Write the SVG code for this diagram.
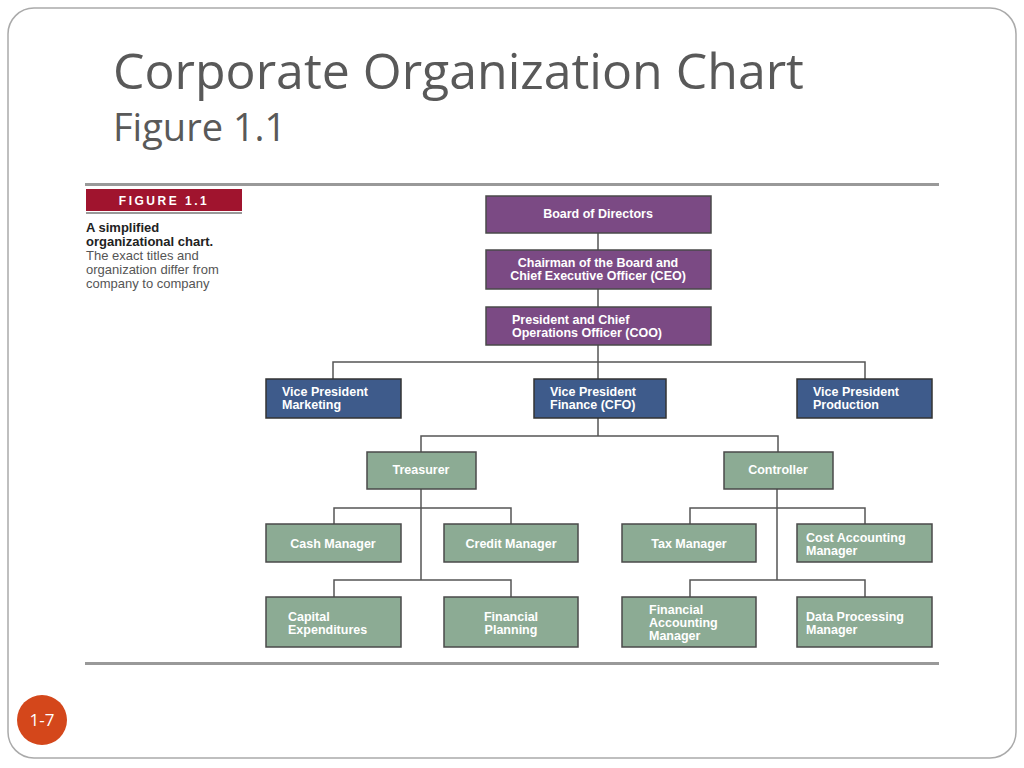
<svg xmlns="http://www.w3.org/2000/svg" width="1024" height="768" viewBox="0 0 1024 768">
<style>
.p{fill:#7b4a84;stroke:#4a4a4a;stroke-width:1.5}
.b{fill:#3e5b8b;stroke:#333;stroke-width:1.5}
.g{fill:#8cab94;stroke:#4a4a4a;stroke-width:1.5}
.t{font-family:"Liberation Sans",Arial,sans-serif;font-weight:bold;font-size:12.5px;fill:#fff}
.c{text-anchor:middle}
.ln{stroke:#555;stroke-width:1.5;fill:none}
</style>
<rect width="1024" height="768" fill="#fff"/>
<rect x="8" y="8" width="1008" height="750" rx="26" fill="#fff" stroke="#aaa" stroke-width="1.5"/>
<text x="113" y="89" font-family="Open Sans,sans-serif" font-size="50" fill="#595959">Corporate Organization Chart</text>
<text x="113" y="141" font-family="Open Sans,sans-serif" font-size="38" fill="#595959">Figure 1.1</text>
<rect x="85" y="183" width="854" height="3" fill="#999"/>
<rect x="85" y="662" width="854" height="3" fill="#999"/>
<rect x="86" y="189" width="156" height="22" fill="#a0142e"/>
<rect x="86" y="212" width="156" height="2" fill="#999"/>
<text x="164" y="205" text-anchor="middle" font-family="Liberation Sans,Arial,sans-serif" font-weight="bold" font-size="12" letter-spacing="2.5" fill="#fff">FIGURE 1.1</text>
<g font-family="Liberation Sans,Arial,sans-serif" font-size="13">
<text x="86" y="232" font-weight="bold" fill="#222">A simplified</text>
<text x="86" y="246" font-weight="bold" fill="#222">organizational chart.</text>
<text x="86" y="260" fill="#555">The exact titles and</text>
<text x="86" y="274" fill="#555">organization differ from</text>
<text x="86" y="288" fill="#555">company to company</text>
</g>
<g id="connectors" class="ln">
<path d="M598 233V250M598 289V307M598 345V379M333 379V362H865V379M598 418V436H421V452M598 436H778V452"/>
<path d="M421 489V580M334 524V508H511V524M334 597V580H511V597"/>
<path d="M777 489V580M690 524V508H865V524M690 597V580H865V597"/>
</g>
<g id="board"><rect class="p" x="486" y="196" width="225" height="37"/><text class="t c" x="598" y="218">Board of Directors</text></g>
<g id="ceo"><rect class="p" x="486" y="250" width="225" height="39"/><text class="t c" x="598" y="267">Chairman of the Board and</text><text class="t c" x="598" y="280">Chief Executive Officer (CEO)</text></g>
<g id="coo"><rect class="p" x="486" y="307" width="225" height="38"/><text class="t" x="512" y="324">President and Chief</text><text class="t" x="512" y="337">Operations Officer (COO)</text></g>
<g id="vpm"><rect class="b" x="266" y="379" width="135" height="39"/><text class="t" x="282" y="396">Vice President</text><text class="t" x="282" y="409">Marketing</text></g>
<g id="cfo"><rect class="b" x="534" y="379" width="132" height="39"/><text class="t" x="550" y="396">Vice President</text><text class="t" x="550" y="409">Finance (CFO)</text></g>
<g id="vpp"><rect class="b" x="797" y="379" width="135" height="39"/><text class="t" x="813" y="396">Vice President</text><text class="t" x="813" y="409">Production</text></g>
<g id="treasurer"><rect class="g" x="367" y="452" width="109" height="37"/><text class="t c" x="421" y="474">Treasurer</text></g>
<g id="controller"><rect class="g" x="724" y="452" width="109" height="37"/><text class="t c" x="778" y="474">Controller</text></g>
<g id="cash"><rect class="g" x="266" y="524" width="135" height="38"/><text class="t c" x="333" y="548">Cash Manager</text></g>
<g id="credit"><rect class="g" x="444" y="524" width="134" height="38"/><text class="t c" x="511" y="548">Credit Manager</text></g>
<g id="tax"><rect class="g" x="622" y="524" width="134" height="38"/><text class="t c" x="689" y="548">Tax Manager</text></g>
<g id="cost"><rect class="g" x="797" y="524" width="135" height="38"/><text class="t" x="806" y="542">Cost Accounting</text><text class="t" x="806" y="555">Manager</text></g>
<g id="capital"><rect class="g" x="266" y="597" width="135" height="50"/><text class="t" x="288" y="621">Capital</text><text class="t" x="288" y="634">Expenditures</text></g>
<g id="planning"><rect class="g" x="444" y="597" width="134" height="50"/><text class="t c" x="511" y="621">Financial</text><text class="t c" x="511" y="634">Planning</text></g>
<g id="fam"><rect class="g" x="622" y="597" width="134" height="50"/><text class="t" x="649" y="614">Financial</text><text class="t" x="649" y="627">Accounting</text><text class="t" x="649" y="640">Manager</text></g>
<g id="dpm"><rect class="g" x="797" y="597" width="135" height="50"/><text class="t" x="806" y="621">Data Processing</text><text class="t" x="806" y="634">Manager</text></g>
<circle cx="42" cy="720" r="25" fill="#d4471b"/>
<text x="42" y="726" text-anchor="middle" font-family="Open Sans,sans-serif" font-size="17" fill="#fff">1-7</text>
</svg>
